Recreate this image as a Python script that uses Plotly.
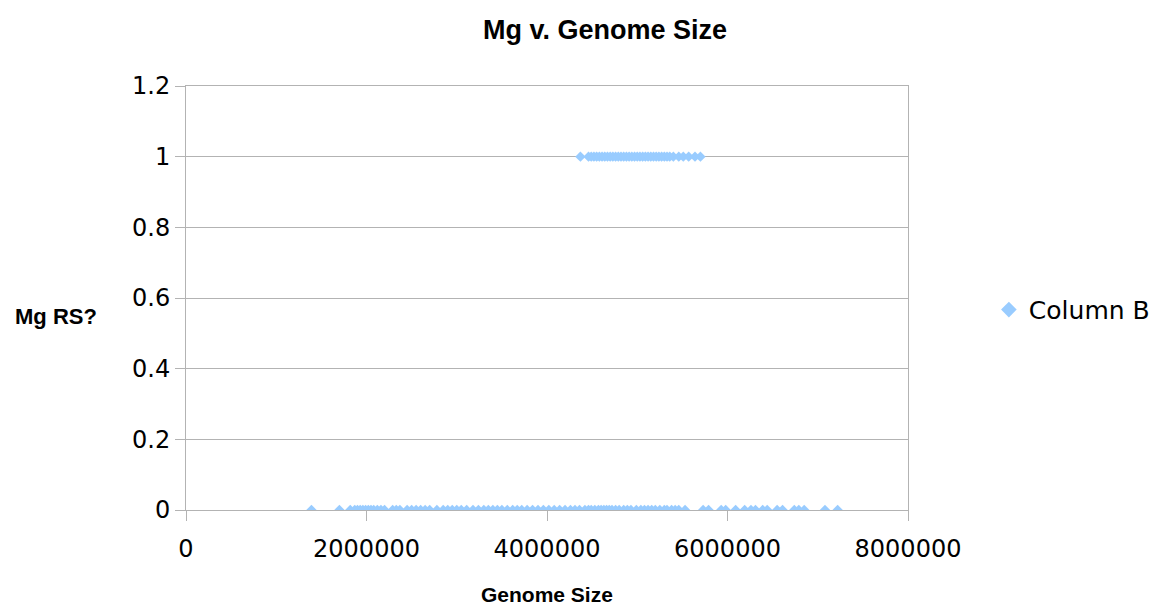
import plotly.graph_objects as go

# Genome sizes (bp) with Mg RS? = 0
genome_size_no = [
    1390000, 1700000, 1820000, 1870000, 1900000, 1930000, 1960000, 1990000,
    2020000, 2050000, 2080000, 2120000, 2160000, 2200000, 2290000, 2330000,
    2370000, 2450000, 2500000, 2550000, 2600000, 2650000, 2700000, 2780000,
    2850000, 2900000, 2950000, 3000000, 3050000, 3110000, 3180000, 3240000,
    3300000, 3350000, 3400000, 3450000, 3500000, 3560000, 3620000, 3670000,
    3720000, 3780000, 3840000, 3900000, 3960000, 4020000, 4080000, 4140000,
    4200000, 4260000, 4310000, 4360000, 4420000, 4460000, 4490000, 4530000,
    4570000, 4600000, 4630000, 4660000, 4690000, 4720000, 4760000, 4800000,
    4850000, 4890000, 4930000, 4990000, 5040000, 5080000, 5120000, 5160000,
    5200000, 5250000, 5300000, 5330000, 5380000, 5420000, 5460000, 5530000,
    5730000, 5790000, 5930000, 5980000, 6090000, 6190000, 6260000, 6310000,
    6390000, 6440000, 6550000, 6610000, 6740000, 6790000, 6850000, 7080000,
    7220000,
]
# Genome sizes (bp) with Mg RS? = 1
genome_size_yes = [
    4370000, 4460000, 4490000, 4520000, 4550000, 4580000, 4610000, 4640000,
    4670000, 4700000, 4730000, 4760000, 4790000, 4820000, 4850000, 4880000,
    4910000, 4940000, 4970000, 5000000, 5030000, 5060000, 5090000, 5120000,
    5150000, 5180000, 5210000, 5240000, 5270000, 5300000, 5330000, 5360000,
    5400000, 5460000, 5510000, 5570000, 5640000, 5700000,
]

x_vals = genome_size_no + genome_size_yes
y_vals = [0] * len(genome_size_no) + [1] * len(genome_size_yes)

x_ticks = [0, 2000000, 4000000, 6000000, 8000000]
y_ticks = [0, 0.2, 0.4, 0.6, 0.8, 1, 1.2]
y_tick_text = ["0", "0.2", "0.4", "0.6", "0.8", "1", "1.2"]

grid = "#b3b3b3"

fig = go.Figure()
fig.add_trace(go.Scatter(
    x=x_vals, y=y_vals, mode="markers", name="Column B",
    marker=dict(symbol="diamond", size=8, color="#99ccff"),
))

fig.update_layout(
    width=1159, height=607,
    margin=dict(l=178, r=250, t=78, b=105),
    paper_bgcolor="white", plot_bgcolor="white",
    font=dict(family="DejaVu Sans", color="black", size=24),
    title=dict(text="<b>Mg v. Genome Size</b>", x=597/1159, xanchor="center",
               y=1 - 22/607, yanchor="middle",
               font=dict(family="Liberation Sans", size=27, color="black")),
    showlegend=True,
    legend=dict(x=1.112, xanchor="left", y=0.472, yanchor="middle",
                font=dict(family="DejaVu Sans", size=25),
                bgcolor="rgba(0,0,0,0)", itemsizing="constant"),
    xaxis=dict(range=[0, 8000000], tickvals=x_ticks,
               ticktext=[str(v) for v in x_ticks],
               showgrid=False, zeroline=False,
               showline=True, linecolor=grid, linewidth=1, mirror=True,
               ticks="outside", ticklen=10, tickcolor=grid,
               ticklabelstandoff=7,
               tickfont=dict(size=24)),
    yaxis=dict(range=[0, 1.2], tickvals=y_ticks, ticktext=y_tick_text,
               showgrid=True, gridcolor=grid, gridwidth=1, zeroline=False,
               showline=True, linecolor=grid, linewidth=1, mirror=True,
               ticks="outside", ticklen=10, tickcolor=grid,
               tickfont=dict(size=24)),
    annotations=[
        dict(text="<b>Genome Size</b>", xref="paper", yref="paper",
             x=(551 - 186) / 731, y=-(594 - 510) / 424,
             xanchor="center", yanchor="middle", showarrow=False,
             font=dict(family="Liberation Sans", size=21, color="black")),
        dict(text="<b>Mg RS?</b>", xref="paper", yref="paper",
             x=-(186 - 54.5) / 731, y=(510 - 316) / 424,
             xanchor="center", yanchor="middle", showarrow=False,
             font=dict(family="Liberation Sans", size=22, color="black")),
    ],
)

fig.write_html("out.html")
